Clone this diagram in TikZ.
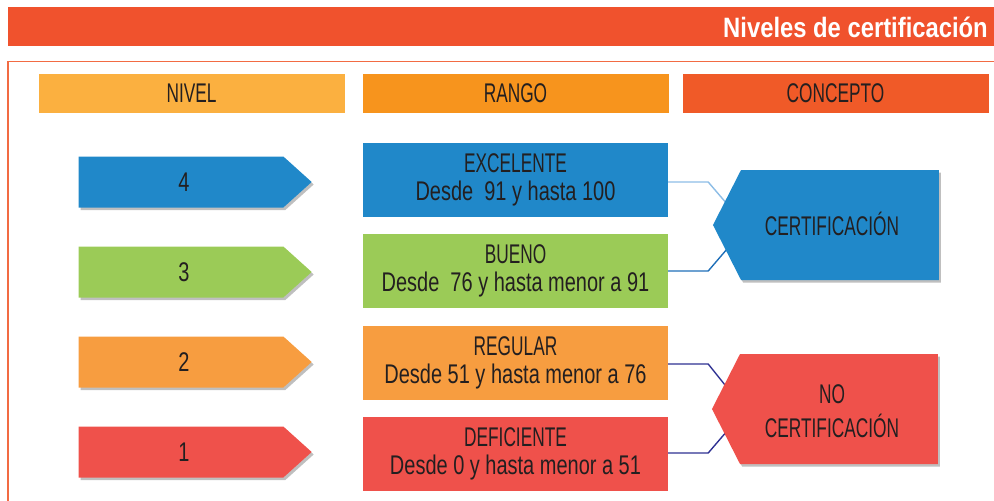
\documentclass[tikz,border=0pt]{standalone}
\usepackage{fontspec}
\setmainfont{Liberation Sans}[FakeStretch=0.74]
\newfontfamily\capsfont{Liberation Sans}[FakeStretch=0.64]
\newfontfamily\titlefont{Liberation Sans}[FakeStretch=0.85]
\usetikzlibrary{shapes.symbols,shadows,calc}
\definecolor{titlebar}{HTML}{F0522D}
\definecolor{framec}{HTML}{F26B43}
\definecolor{hnivel}{HTML}{FBB040}
\definecolor{hrango}{HTML}{F7941D}
\definecolor{hconcepto}{HTML}{F05A28}
\definecolor{cblue}{HTML}{2088C9}
\definecolor{cgreen}{HTML}{9BCB57}
\definecolor{corange}{HTML}{F79D40}
\definecolor{cred}{HTML}{EF514B}
\definecolor{txt}{HTML}{231F20}
\definecolor{lnlight}{HTML}{8DBDE6}
\definecolor{lnblue}{HTML}{1F6FB8}
\definecolor{lnnavy}{HTML}{2E3192}
\tikzset{
  headbox/.style={rectangle, inner sep=0, minimum width=306, minimum height=39, text=txt,
    font=\capsfont\fontsize{27}{28}\selectfont},
  rangebox/.style={rectangle, inner sep=0, minimum width=305, minimum height=74, text=txt,
    align=center, font=\fontsize{27}{28}\selectfont},
  shd/.style={drop shadow={shadow xshift=2pt, shadow yshift=-2.5pt, fill=black, opacity=0.25}},
  lvarrow/.style={signal, signal to=east, signal pointer angle=84, minimum width=233,
    minimum height=51, inner sep=0, shd},
  lvtext/.style={text=txt, inner sep=0, font=\fontsize{27}{28}\selectfont},
  concept/.style={signal, signal to=west, signal pointer angle=126, minimum width=226,
    minimum height=110, inner sep=0, shd},
  ctext/.style={text=txt, inner sep=0, align=center, font=\capsfont\fontsize{27}{34}\selectfont},
  conn/.style={line width=1.4pt}
}
\begin{document}
\begin{tikzpicture}[x=1pt,y=-1pt]
\useasboundingbox (0,0) rectangle (994,501);
% title bar
\fill[titlebar] (8,7) rectangle (994,46);
\node[anchor=base east, text=white, inner sep=0, font=\titlefont\bfseries\fontsize{28}{30}\selectfont] (title) at (988,37) {Niveles de certificación};
% frame
\draw[framec, line width=1.4pt] (8,501) -- (8,61.5) -- (994,61.5);
% headers
\node[headbox, fill=hnivel] (hn) at (191.5,93.5) {NIVEL};
\node[headbox, fill=hrango] (hr) at (515.5,93.5) {RANGO};
\node[headbox, fill=hconcepto] (hc) at (835.5,93.5) {CONCEPTO};
% level arrows
\node[lvarrow, fill=cblue] (l4) at (181,182) {};
\node[lvarrow, fill=cgreen] (l3) at (181,272) {};
\node[lvarrow, fill=corange] (l2) at (181,362) {};
\node[lvarrow, fill=cred] (l1) at (181,452) {};
\node[lvtext] (t4) at (184,182) {4};
\node[lvtext] (t3) at (184,272) {3};
\node[lvtext] (t2) at (184,362) {2};
\node[lvtext] (t1) at (184,452) {1};
% range boxes
\node[rangebox, fill=cblue] (ex) at (515.5,180) {{\capsfont EXCELENTE}\\Desde~ 91 y hasta 100};
\node[rangebox, fill=cgreen] (bu) at (515.5,271) {{\capsfont BUENO}\\Desde~ 76 y hasta menor a 91};
\node[rangebox, fill=corange] (re) at (515.5,362.5) {{\capsfont REGULAR}\\Desde 51 y hasta menor a 76};
\node[rangebox, fill=cred] (de) at (515.5,454) {{\capsfont DEFICIENTE}\\Desde 0 y hasta menor a 51};
% connectors
\draw[conn, lnlight] ([yshift=-2pt]ex.east) -- ++(40,0) -- ++(24,28);
\draw[conn, lnblue] (bu.east) -- ++(40,0) -- ++(24,-28);
\draw[conn, lnnavy] ([yshift=-1.5pt]re.east) -- ++(40,0) -- ++(24,30);
\draw[conn, lnnavy] ([yshift=1pt]de.east) -- ++(40,0) -- ++(24,-28);
% concept shapes
\node[concept, fill=cblue] (cert) at (840,225) {};
\node[concept, fill=cred] (nocert) at (839,409) {};
\node[ctext] (certt) at (832,224) {CERTIFICACIÓN};
\node[ctext] (nocertt) at (832,411) {NO\\CERTIFICACIÓN};
\end{tikzpicture}
\end{document}
